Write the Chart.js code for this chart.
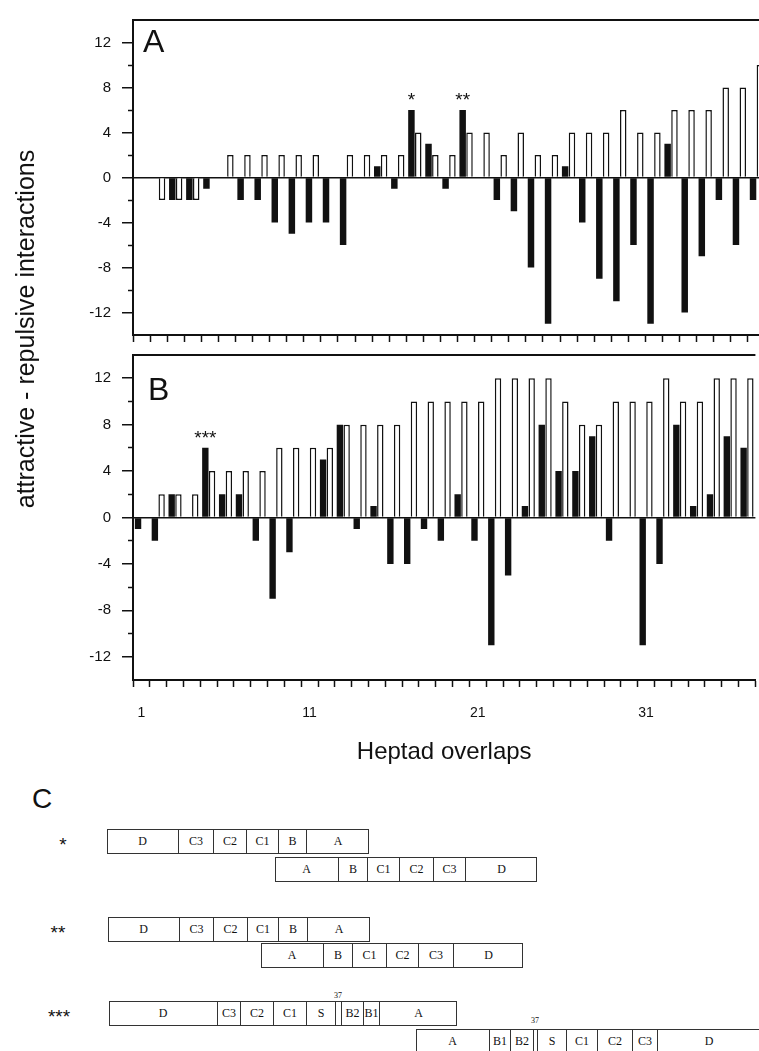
<!DOCTYPE html>
<html lang="en">
<head>
  <meta charset="utf-8">
  <title>Heptad overlaps</title>
  <style>
    html, body { margin: 0; padding: 0; background: #fff; overflow: hidden; }
    body { width: 759px; height: 1051px; position: relative; font-family: "Liberation Sans", Arial, sans-serif; color: #111; }
    canvas { position: absolute; left: 0; }
    #chartA { top: 0; }
    #chartB { top: 335px; }
    #ytitle {
      position: absolute; left: -175px; top: 315px; width: 400px; height: 28px;
      line-height: 28px; text-align: center; font-size: 25px; transform: rotate(-90deg);
    }
    .panel { position: absolute; line-height: 32px; font-size: 32px; }
    .box { position: absolute; height: 25px; border: 1px solid #333; box-sizing: border-box; background: #fff; }
    .seg { position: absolute; top: 0; bottom: 0; text-align: center;
           font: 12px "Liberation Serif", serif; line-height: 23px; color: #111; box-sizing: border-box; }
    .rowmark { position: absolute; font-size: 19px; line-height: 19px; transform: translateX(-50%); }
    .note { position: absolute; font: 8px "Liberation Serif", serif; transform: translateX(-50%); }
  </style>
  <script src="https://cdn.jsdelivr.net/npm/chart.js"></script>
</head>
<body>
  <canvas id="chartA" width="765" height="355"></canvas>
  <canvas id="chartB" width="765" height="432"></canvas>
  <div id="ytitle">attractive - repulsive interactions</div>
  <div class="panel" style="left:143px; top:25px;">A</div>
  <div class="panel" style="left:148px; top:373px;">B</div>
  <div class="panel" style="left:32px; top:785px; font-size:28px; line-height:28px;">C</div>
  <div id="scheme"></div>
  <script>
    const heptads = ['1', '2', '3', '4', '5', '6', '7', '8', '9', '10', '11', '12', '13', '14', '15', '16', '17', '18', '19',
      '20', '21', '22', '23', '24', '25', '26', '27', '28', '29', '30', '31', '32', '33', '34', '35', '36', '37'];
    const xTickLabels = ['1', '11', '21', '31'];
    const yMajorTicks = [-12, -8, -4, 0, 4, 8, 12];
    const yMinorTicks = [-10, -6, -2, 2, 6, 10];

    // panel A
    const blackA = [0, 0, -2, -2, -1, 0, -2, -2, -4, -5, -4, -4, -6, 0, 1, -1, 6, 3, -1, 6,
      0, -2, -3, -8, -13, 1, -4, -9, -11, -6, -13, 3, -12, -7, -2, -6, -2];
    const whiteA = [0, -2, -2, -2, 0, 2, 2, 2, 2, 2, 2, 0, 2, 2, 2, 2, 4, 2, 2, 4,
      4, 2, 4, 2, 2, 4, 4, 4, 6, 4, 4, 6, 6, 6, 8, 8, 10];
    // panel B
    const blackB = [-1, -2, 2, 0, 6, 2, 2, -2, -7, -3, 0, 5, 8, -1, 1, -4, -4, -1, -2, 2,
      -2, -11, -5, 1, 8, 4, 4, 7, -2, 0, -11, -4, 8, 1, 2, 7, 6];
    const whiteB = [0, 2, 2, 2, 4, 4, 4, 4, 6, 6, 6, 6, 8, 8, 8, 8, 10, 10, 10, 10,
      10, 12, 12, 12, 12, 10, 8, 8, 10, 10, 10, 12, 10, 10, 12, 12, 12];

    const markIndexA = [16, 19];
    const markTextA = ['*', '**'];
    const markIndexB = [4];
    const markTextB = ['***'];

    // panel C scheme: segment edges and names per row
    const schemeEdges = [
      [107, 178, 213, 246, 278, 306, 369],
      [275, 338, 367, 399, 433, 465, 537],
      [108, 179, 213, 247, 278, 307, 370],
      [261, 323, 352, 386, 418, 453, 523],
      [109, 217, 240, 273, 306, 335, 341, 363, 379, 457],
      [416, 489, 510, 533, 537, 566, 597, 632, 657, 760]
    ];
    const schemeNames = [
      ['D', 'C3', 'C2', 'C1', 'B', 'A'],
      ['A', 'B', 'C1', 'C2', 'C3', 'D'],
      ['D', 'C3', 'C2', 'C1', 'B', 'A'],
      ['A', 'B', 'C1', 'C2', 'C3', 'D'],
      ['D', 'C3', 'C2', 'C1', 'S', '', 'B2', 'B1', 'A'],
      ['A', 'B1', 'B2', '', 'S', 'C1', 'C2', 'C3', 'D']
    ];
    const schemeTops = [829, 857, 917, 943, 1001, 1029];
    const rowMarks = ['*', '', '**', '', '***', ''];
    const rowMarkX = [63, 0, 58, 0, 59, 0];
    const noteX = [338, 535];
    const noteY = [991, 1016];
    const noteText = ['37', '37'];

    const family = '"Liberation Sans", Arial, sans-serif';

    function marksPlugin(index, text) {
      return {
        id: 'panelMarks',
        afterDatasetsDraw(chart) {
          const ctx = chart.ctx;
          const a = chart.chartArea;
          ctx.save();
          // top frame line
          ctx.strokeStyle = '#111';
          ctx.lineWidth = 2;
          ctx.beginPath();
          ctx.moveTo(a.left, a.top);
          ctx.lineTo(a.right, a.top);
          ctx.stroke();
          // asterisks above the marked black bars
          const bars = chart.getDatasetMeta(0).data;
          ctx.fillStyle = '#111';
          ctx.font = '19px ' + family;
          ctx.textAlign = 'center';
          ctx.textBaseline = 'alphabetic';
          index.forEach((k, i) => {
            const b = bars[k];
            ctx.fillText(text[i], b.x, b.y - 4);
          });
          ctx.restore();
        }
      };
    }

    function makePanel(id, black, white, markIdx, markTxt, withLabels, xHeight) {
      const ctx = document.getElementById(id).getContext('2d');
      return new Chart(ctx, {
        type: 'bar',
        data: {
          labels: heptads,
          datasets: [
            { data: black, backgroundColor: '#111', borderWidth: 0,
              categoryPercentage: 0.8, barPercentage: 0.95 },
            { data: white, backgroundColor: '#fff', borderColor: '#111', borderWidth: 1.5,
              categoryPercentage: 0.8, barPercentage: 0.95 }
          ]
        },
        options: {
          responsive: false,
          animation: false,
          layout: { padding: { top: 12, left: 0, right: 0, bottom: 0 } },
          plugins: { legend: { display: false }, tooltip: { enabled: false } },
          scales: {
            x: {
              type: 'category',
              offset: true,
              grid: { offset: true, drawOnChartArea: false, tickLength: 7, tickColor: '#111', tickWidth: 1.5 },
              border: { display: true, color: '#111', width: 2 },
              ticks: {
                display: withLabels, autoSkip: false, maxRotation: 0, minRotation: 0,
                padding: 18, color: '#111', font: { family: family, size: 14 },
                callback: (v, i) => xTickLabels.includes(heptads[i]) ? heptads[i] : ''
              },
              title: {
                display: withLabels, text: 'Heptad overlaps', color: '#111',
                font: { family: family, size: 24 }, padding: 0
              },
              afterFit: s => { s.height = xHeight; }
            },
            y: {
              type: 'linear', position: 'left', min: -14, max: 14, weight: 1,
              afterBuildTicks: s => { s.ticks = yMajorTicks.map(v => ({ value: v })); },
              grid: {
                drawOnChartArea: true,
                color: c => (c.tick && c.tick.value === 0) ? '#111' : 'rgba(0,0,0,0)',
                lineWidth: 1.5, tickLength: 11, tickColor: '#111', tickWidth: 1.5
              },
              border: { display: true, color: '#111', width: 2 },
              ticks: { padding: 11, color: '#111', font: { family: family, size: 15 } },
              afterFit: s => { s.width = 133; }
            },
            yMinor: {
              type: 'linear', position: 'left', min: -14, max: 14, weight: 0,
              afterBuildTicks: s => { s.ticks = yMinorTicks.map(v => ({ value: v })); },
              grid: { drawOnChartArea: false, tickLength: 5, tickColor: '#111', tickWidth: 1.5 },
              border: { display: false },
              ticks: { display: false },
              afterFit: s => { s.width = 0; }
            }
          }
        },
        plugins: [marksPlugin(markIdx, markTxt)]
      });
    }

    makePanel('chartA', blackA, whiteA, markIndexA, markTextA, false, 8);
    makePanel('chartB', blackB, whiteB, markIndexB, markTextB, true, 87);

    // panel C
    const scheme = document.getElementById('scheme');
    schemeEdges.forEach((edges, r) => {
      const box = document.createElement('div');
      box.className = 'box';
      box.style.left = edges[0] + 'px';
      box.style.top = schemeTops[r] + 'px';
      box.style.width = (edges[edges.length - 1] - edges[0]) + 'px';
      for (let i = 0; i < edges.length - 1; i++) {
        const seg = document.createElement('div');
        seg.className = 'seg';
        seg.style.left = (edges[i] - edges[0] - 1) + 'px';
        seg.style.width = (edges[i + 1] - edges[i]) + 'px';
        if (i > 0) seg.style.borderLeft = '1px solid #333';
        seg.textContent = schemeNames[r][i];
        box.appendChild(seg);
      }
      scheme.appendChild(box);
      if (rowMarks[r]) {
        const m = document.createElement('div');
        m.className = 'rowmark';
        m.style.left = rowMarkX[r] + 'px';
        m.style.top = (schemeTops[r] + 6) + 'px';
        m.textContent = rowMarks[r];
        scheme.appendChild(m);
      }
    });
    noteText.forEach((t, i) => {
      const n = document.createElement('div');
      n.className = 'note';
      n.style.left = noteX[i] + 'px';
      n.style.top = noteY[i] + 'px';
      n.textContent = t;
      scheme.appendChild(n);
    });
  </script>
</body>
</html>
